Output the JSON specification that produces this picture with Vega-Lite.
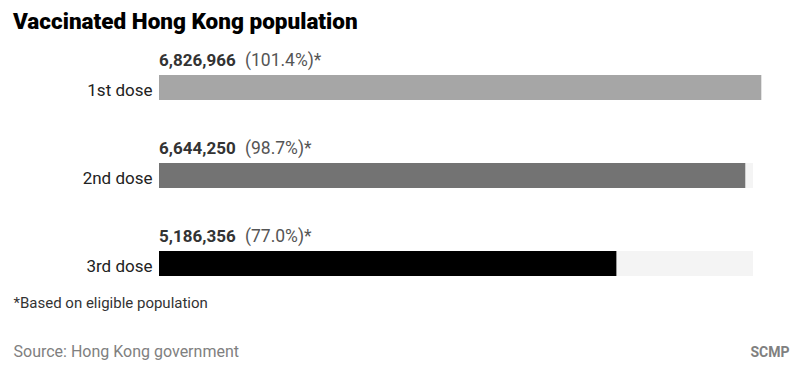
{
  "$schema": "https://vega.github.io/schema/vega-lite/v6.json",
  "width": 594,
  "height": 264,
  "autosize": {"type": "none"},
  "padding": {"left": 159, "top": 43.5, "right": 47, "bottom": 58.5},
  "background": "#ffffff",
  "config": {
    "font": "Roboto",
    "view": {"stroke": null},
    "axis": {"grid": false, "domain": false, "ticks": false}
  },
  "title": {
    "text": "Vaccinated Hong Kong population",
    "anchor": "start",
    "frame": "group",
    "dx": -146,
    "dy": 24,
    "offset": 16,
    "baseline": "alphabetic",
    "fontSize": 22.5,
    "fontWeight": 900,
    "color": "#000000",
    "font": "Roboto"
  },
  "data": {
    "values": [
      {"dose": "1st dose", "people": 6826966, "pct": 101.4, "pctLabel": "(101.4%)*"},
      {"dose": "2nd dose", "people": 6644250, "pct": 98.7, "pctLabel": "(98.7%)*"},
      {"dose": "3rd dose", "people": 5186356, "pct": 77.0, "pctLabel": "(77.0%)*"}
    ]
  },
  "resolve": {"axis": {"y": "independent", "x": "independent"}},
  "layer": [
    {
      "mark": {"type": "bar", "height": 25, "color": "#f4f4f4"},
      "encoding": {
        "y": {
          "field": "dose", "type": "nominal", "sort": null,
          "scale": {"paddingInner": 0, "paddingOuter": 0},
          "axis": {
            "title": "Source: Hong Kong government",
            "titleAngle": 0,
            "titleX": -146,
            "titleY": 312.5,
            "titleAlign": "left",
            "titleBaseline": "alphabetic",
            "titleFontSize": 16,
            "titleFontWeight": "normal",
            "titleColor": "#808080",
            "titleFont": "Roboto",
            "labelFontSize": 17,
            "labelColor": "#222222",
            "labelFont": "Roboto",
            "labelPadding": 7,
            "labelBaseline": "alphabetic",
            "labelOffset": 8.5
          }
        },
        "x": {
          "datum": 100, "type": "quantitative",
          "scale": {"domain": [0, 100], "clamp": false, "nice": false},
          "axis": {
            "labels": false,
            "title": "*Based on eligible population",
            "titleX": -146,
            "titleY": 0,
            "titleAlign": "left",
            "titleAnchor": null,
            "titleBaseline": "alphabetic",
            "titleFontSize": 15,
            "titleFontWeight": "normal",
            "titleColor": "#333333",
            "titleFont": "Roboto"
          }
        }
      }
    },
    {
      "mark": {"type": "bar", "height": 25},
      "encoding": {
        "y": {
          "field": "dose", "type": "nominal", "sort": null,
          "axis": {
            "orient": "right",
            "labels": false,
            "title": "SCMP",
            "titleAngle": 0,
            "titleX": 36,
            "titleY": 312.5,
            "titleAlign": "right",
            "titleBaseline": "alphabetic",
            "titleFontSize": 14,
            "titleFontWeight": "bold",
            "titleColor": "#808080",
            "titleFont": "Roboto"
          }
        },
        "x": {"field": "pct", "type": "quantitative", "axis": null},
        "color": {
          "field": "dose", "type": "nominal", "legend": null,
          "scale": {"domain": ["1st dose", "2nd dose", "3rd dose"], "range": ["#a6a6a6", "#737373", "#000000"]}
        }
      }
    },
    {
      "mark": {"type": "text", "align": "left", "baseline": "alphabetic", "dy": -21.5, "fontSize": 17, "fontWeight": "bold", "color": "#333333", "font": "Roboto"},
      "encoding": {
        "y": {"field": "dose", "type": "nominal", "sort": null, "axis": null},
        "x": {"datum": 0, "type": "quantitative", "axis": null},
        "text": {"field": "people", "type": "quantitative", "format": ",d"}
      }
    },
    {
      "mark": {"type": "text", "align": "left", "baseline": "alphabetic", "dy": -21.5, "dx": 86, "fontSize": 17.5, "fontWeight": "normal", "color": "#555555", "font": "Roboto"},
      "encoding": {
        "y": {"field": "dose", "type": "nominal", "sort": null, "axis": null},
        "x": {"datum": 0, "type": "quantitative", "axis": null},
        "text": {"field": "pctLabel", "type": "nominal"}
      }
    }
  ]
}
